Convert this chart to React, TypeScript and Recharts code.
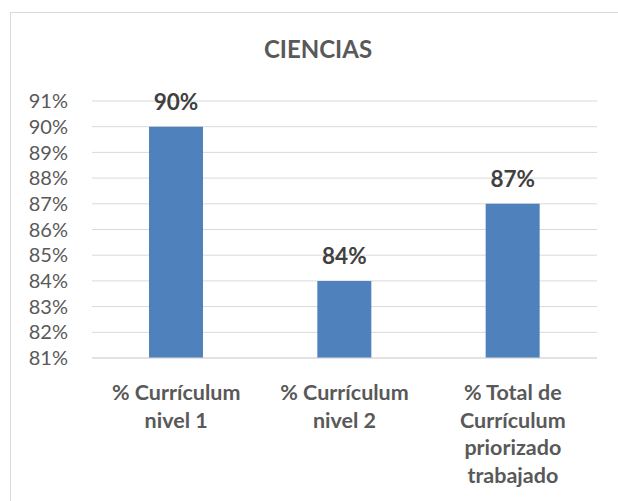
import { Bar, BarChart, CartesianGrid, LabelList, XAxis, YAxis } from 'recharts';

const categories = ['% Currículum\nnivel 1', '% Currículum\nnivel 2', '% Total de\nCurrículum\npriorizado\ntrabajado'];
const values = [90, 84, 87];
const yTicks = [81, 82, 83, 84, 85, 86, 87, 88, 89, 90, 91];

const data = categories.map((name, i) => ({ name, value: values[i] }));

const FONT = 'Lato, "Open Sans", sans-serif';

function CategoryTick({ x, y, payload }: any) {
  const lines = String(payload.value).split('\n');
  return (
    <text x={x} y={y} textAnchor="middle" fill="#595959" fontFamily={FONT} fontSize={21.5} fontWeight={700}>
      {lines.map((line, i) => (
        <tspan key={i} x={x} dy={i === 0 ? 34 : 27.5}>
          {line}
        </tspan>
      ))}
    </text>
  );
}

export default function App() {
  return (
    <div style={{ position: 'absolute', left: 0, top: 0, width: 618, height: 501, background: '#fff' }}>
      <div
        style={{
          position: 'absolute',
          left: 10,
          top: 12,
          width: 640,
          height: 520,
          border: '1px solid #d9d9d9',
        }}
      />
      <div
        style={{
          position: 'absolute',
          left: 218,
          top: 34,
          width: 200,
          textAlign: 'center',
          fontFamily: FONT,
          fontSize: 24,
          fontWeight: 700,
          color: '#595959',
        }}
      >
        CIENCIAS
      </div>
      <div style={{ position: 'absolute', left: 0, top: 0 }}>
        <BarChart width={618} height={501} data={data} margin={{ top: 101, right: 21, left: 0, bottom: 0 }}>
          <CartesianGrid vertical={false} stroke="#d9d9d9" />
          <XAxis
            dataKey="name"
            height={143}
            interval={0}
            tickLine={false}
            axisLine={{ stroke: '#d9d9d9' }}
            tick={<CategoryTick />}
          />
          <YAxis
            width={92}
            domain={[81, 91]}
            ticks={yTicks}
            interval={0}
            axisLine={false}
            tickLine={false}
            tickSize={0}
            tickMargin={24}
            tickFormatter={(v: number) => `${v}%`}
            tick={{ fill: '#595959', fontSize: 20, fontFamily: FONT }}
          />
          <Bar dataKey="value" fill="#4F81BD" barSize={54} isAnimationActive={false}>
            <LabelList
              dataKey="value"
              position="top"
              offset={17}
              formatter={(v: number) => `${v}%`}
              fill="#404040"
              fontFamily={FONT}
              fontSize={22.5}
              fontWeight={700}
            />
          </Bar>
        </BarChart>
      </div>
    </div>
  );
}
